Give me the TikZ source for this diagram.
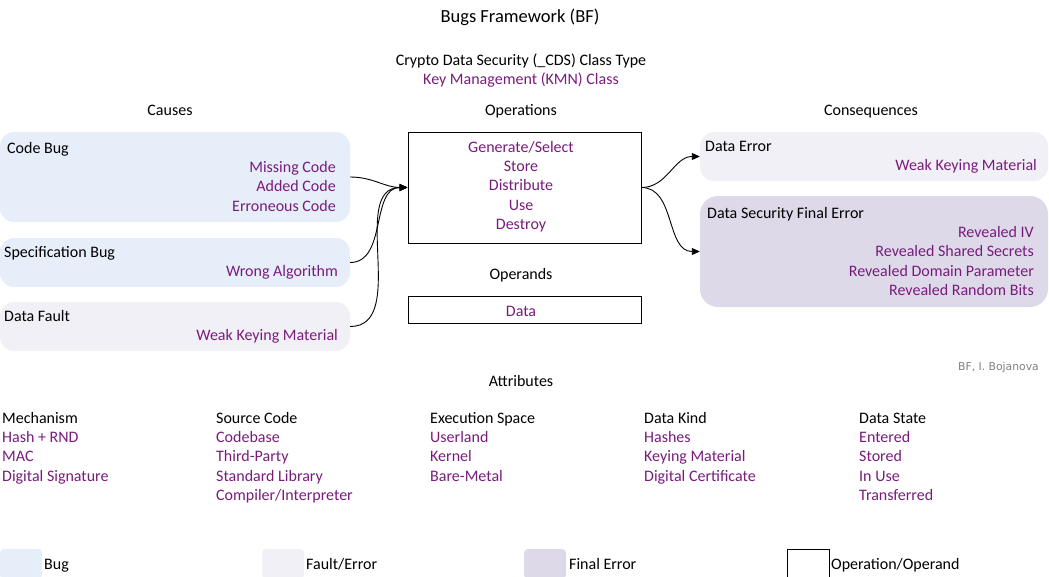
\documentclass[tikz,border=0pt]{standalone}
\usepackage{fontspec}
\setmainfont{Carlito}
\newfontfamily\credfont{DejaVu Sans}
\usetikzlibrary{arrows.meta}
\definecolor{purp}{HTML}{781C7C}
\definecolor{bugfill}{HTML}{E6EEFA}
\definecolor{faultfill}{HTML}{F2F0F7}
\definecolor{finalfill}{HTML}{DDD9E8}
\definecolor{credgray}{HTML}{808080}
\tikzset{
  txt/.style={inner sep=0pt, font=\fontsize{16}{19}\selectfont, text=black},
  itm/.style={txt, text=purp},
  bugbox/.style={draw=none, fill=bugfill, rounded corners=14pt, inner sep=0pt},
  faultbox/.style={draw=none, fill=faultfill, rounded corners=14pt, inner sep=0pt},
  finalbox/.style={draw=none, fill=finalfill, rounded corners=18pt, inner sep=0pt},
  opbox/.style={draw=black, line width=1pt, fill=white, inner sep=0pt},
  conn/.style={line width=0.9pt, -{Triangle[length=8pt,width=7pt]}},
}
\begin{document}
\begin{tikzpicture}[x=1pt,y=-1pt]
\useasboundingbox (0,0) rectangle (1049,576);
% headings
\node[txt, font=\fontsize{18.5}{22}\selectfont, anchor=base] (title) at (520,22) {Bugs Framework (BF)};
\node[txt, anchor=base] (ctype) at (521,65) {Crypto Data Security (\_CDS) Class Type};
\node[itm, anchor=base] (cls) at (521,84) {Key Management (KMN) Class};
\node[txt, anchor=base] (causes) at (170,115) {Causes};
\node[txt, anchor=base] (ops) at (521,115) {Operations};
\node[txt, anchor=base] (cons) at (871,115) {Consequences};
% cause boxes
\node[bugbox, minimum width=350pt, minimum height=90pt] (codebug) at (175,177) {};
\node[bugbox, minimum width=350pt, minimum height=49pt] (specbug) at (175,262.5) {};
\node[faultbox, minimum width=350pt, minimum height=49pt] (datafault) at (175,326.5) {};
\node[txt, anchor=base west] (cbt) at (7,153) {Code Bug};
\node[itm, anchor=base east] (cb1) at (336,172) {Missing Code};
\node[itm, anchor=base east] (cb2) at (336,191) {Added Code};
\node[itm, anchor=base east] (cb3) at (336,211) {Erroneous Code};
\node[txt, anchor=base west] (sbt) at (4,257) {Specification Bug};
\node[itm, anchor=base east] (sb1) at (338,276) {Wrong Algorithm};
\node[txt, anchor=base west] (dft) at (4,321) {Data Fault};
\node[itm, anchor=base east] (df1) at (338,340) {Weak Keying Material};
% operations
\node[opbox, minimum width=233pt, minimum height=111pt] (opbx) at (524.5,187.5) {};
\node[itm, anchor=base] (op1) at (521,152) {Generate/Select};
\node[itm, anchor=base] (op2) at (521,171) {Store};
\node[itm, anchor=base] (op3) at (521,190) {Distribute};
\node[itm, anchor=base] (op4) at (521,210) {Use};
\node[itm, anchor=base] (op5) at (521,229) {Destroy};
\node[txt, anchor=base] (opnds) at (521,279) {Operands};
\node[opbox, minimum width=233pt, minimum height=27pt] (databx) at (524.5,309.5) {};
\node[itm, anchor=base] (data) at (521,316) {Data};
% consequences
\node[faultbox, minimum width=348pt, minimum height=49pt] (dataerr) at (874,156.5) {};
\node[finalbox, minimum width=348pt, minimum height=111pt] (finalerr) at (874,251.5) {};
\node[txt, anchor=base west] (det) at (705,151) {Data Error};
\node[itm, anchor=base east] (de1) at (1037,170) {Weak Keying Material};
\node[txt, anchor=base west] (fet) at (707,218) {Data Security Final Error};
\node[itm, anchor=base east] (fe1) at (1034,237) {Revealed IV};
\node[itm, anchor=base east] (fe2) at (1034,256) {Revealed Shared Secrets};
\node[itm, anchor=base east] (fe3) at (1034,276) {Revealed Domain Parameter};
\node[itm, anchor=base east] (fe4) at (1034,295) {Revealed Random Bits};
% connectors
\draw[conn] (codebug.east) to[out=0,in=180] (opbx.west);
\draw[conn] (specbug.east) to[out=0,in=180] (opbx.west);
\draw[conn] (datafault.east) to[out=0,in=180] (opbx.west);
\draw[conn] (opbx.east) to[out=0,in=180] (dataerr.west);
\draw[conn] (opbx.east) to[out=0,in=180] (finalerr.west);
% credit
\node[inner sep=0pt, anchor=base east, text=credgray, font=\credfont\fontsize{10.8}{12}\selectfont] (credit) at (1039,370) {BF, I. Bojanova};
% attributes
\node[txt, anchor=base] (attr) at (521,386) {Attributes};
\node[txt, anchor=base west] (a1) at (2,423) {Mechanism};
\node[itm, anchor=base west] (a11) at (2,442) {Hash + RND};
\node[itm, anchor=base west] (a12) at (2,461) {MAC};
\node[itm, anchor=base west] (a13) at (2,481) {Digital Signature};
\node[txt, anchor=base west] (a2) at (216,423) {Source Code};
\node[itm, anchor=base west] (a21) at (216,442) {Codebase};
\node[itm, anchor=base west] (a22) at (216,461) {Third-Party};
\node[itm, anchor=base west] (a23) at (216,481) {Standard Library};
\node[itm, anchor=base west] (a24) at (216,500) {Compiler/Interpreter};
\node[txt, anchor=base west] (a3) at (430,423) {Execution Space};
\node[itm, anchor=base west] (a31) at (430,442) {Userland};
\node[itm, anchor=base west] (a32) at (430,461) {Kernel};
\node[itm, anchor=base west] (a33) at (430,481) {Bare-Metal};
\node[txt, anchor=base west] (a4) at (644,423) {Data Kind};
\node[itm, anchor=base west] (a41) at (644,442) {Hashes};
\node[itm, anchor=base west] (a42) at (644,461) {Keying Material};
\node[itm, anchor=base west] (a43) at (644,481) {Digital Certificate};
\node[txt, anchor=base west] (a5) at (859,423) {Data State};
\node[itm, anchor=base west] (a51) at (859,442) {Entered};
\node[itm, anchor=base west] (a52) at (859,461) {Stored};
\node[itm, anchor=base west] (a53) at (859,481) {In Use};
\node[itm, anchor=base west] (a54) at (859,500) {Transferred};
% legend
\node[bugbox, rounded corners=4pt, minimum width=42pt, minimum height=30pt] (lg1) at (21,564) {};
\node[txt, anchor=base west] (lg1t) at (44,569) {Bug};
\node[faultbox, rounded corners=4pt, minimum width=42pt, minimum height=30pt] (lg2) at (283,564) {};
\node[txt, anchor=base west] (lg2t) at (306,569) {Fault/Error};
\node[finalbox, rounded corners=4pt, minimum width=42pt, minimum height=30pt] (lg3) at (545,564) {};
\node[txt, anchor=base west] (lg3t) at (569,569) {Final Error};
\node[opbox, minimum width=42pt, minimum height=30pt] (lg4) at (808,564) {};
\node[txt, anchor=base west] (lg4t) at (831,569) {Operation/Operand};
\end{tikzpicture}
\end{document}
